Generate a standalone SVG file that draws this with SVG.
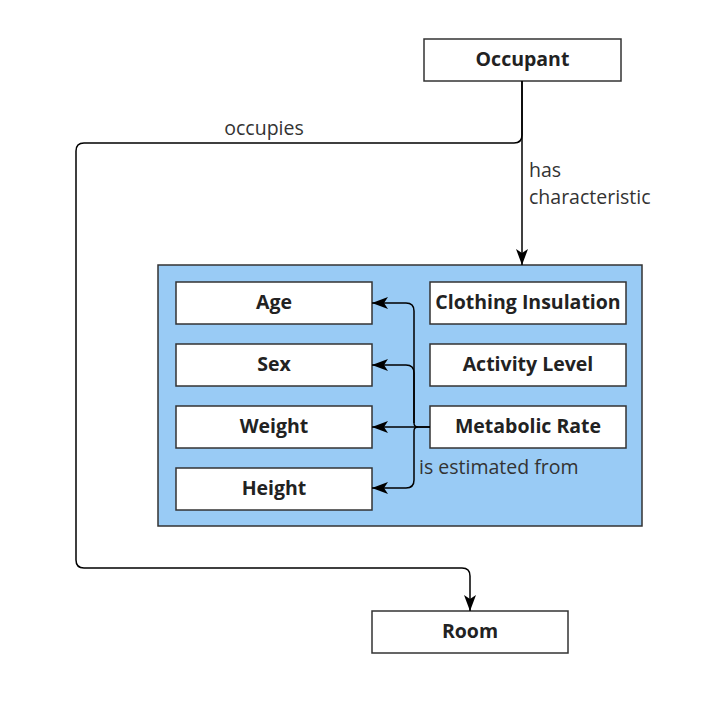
<svg xmlns="http://www.w3.org/2000/svg" width="708" height="703" viewBox="0 0 708 703">
<style>
.box{fill:#fff;stroke:#333;stroke-width:1.5}
.t{font-family:"Open Sans",sans-serif;font-weight:bold;font-size:19.5px;fill:#222;text-anchor:middle;dominant-baseline:central}
.lbl{font-family:"Open Sans",sans-serif;font-size:19.5px;fill:#333}
.c{fill:none;stroke:#000;stroke-width:1.5}
</style>
<defs>
<marker id="ah" viewBox="0 0 16 12" refX="16" refY="6" markerWidth="16" markerHeight="12" markerUnits="userSpaceOnUse" orient="auto">
<path d="M0,0 L16,6 L0,12 L4,6 Z" fill="#000"/>
</marker>
</defs>
<rect width="708" height="703" fill="#fff"/>
<g id="characteristics">
<rect x="158" y="265" width="484" height="261" fill="#99cbf5" stroke="#333" stroke-width="1.5"/>
</g>
<g id="occupant"><rect class="box" x="424" y="39" width="197" height="42"/><text class="t" x="522.5" y="58">Occupant</text></g>
<g id="room"><rect class="box" x="372" y="611" width="196" height="42"/><text class="t" x="470" y="630">Room</text></g>
<g id="age"><rect class="box" x="176" y="282" width="196" height="42"/><text class="t" x="274" y="301">Age</text></g>
<g id="sex"><rect class="box" x="176" y="344" width="196" height="42"/><text class="t" x="274" y="363">Sex</text></g>
<g id="weight"><rect class="box" x="176" y="406" width="196" height="42"/><text class="t" x="274" y="425">Weight</text></g>
<g id="height"><rect class="box" x="176" y="468" width="196" height="42"/><text class="t" x="274" y="487">Height</text></g>
<g id="clothing"><rect class="box" x="430" y="282" width="196" height="42"/><text class="t" x="528" y="301">Clothing Insulation</text></g>
<g id="activity"><rect class="box" x="430" y="344" width="196" height="42"/><text class="t" x="528" y="363">Activity Level</text></g>
<g id="metabolic"><rect class="box" x="430" y="406" width="196" height="42"/><text class="t" x="528" y="425">Metabolic Rate</text></g>
<g id="connectors">
<path class="c" d="M522,81 L522,135 Q522,143 514,143 L84,143 Q76,143 76,151 L76,560 Q76,568 84,568 L462,568 Q470,568 470,576 L470,611" marker-end="url(#ah)"/>
<path class="c" d="M522,81 L522,265" marker-end="url(#ah)"/>
<path class="c" d="M430,427 L372,427" marker-end="url(#ah)"/>
<path class="c" d="M430,427 L418,427 Q414,427 414,423 L414,311 Q414,303 406,303 L372,303" marker-end="url(#ah)"/>
<path class="c" d="M414,423 L414,373 Q414,365 406,365 L372,365" marker-end="url(#ah)"/>
<path class="c" d="M418,427 Q414,427 414,431 L414,480 Q414,488 406,488 L372,488" marker-end="url(#ah)"/>
<text class="lbl" x="264" y="135" text-anchor="middle">occupies</text>
<text class="lbl" x="529" y="177">has</text>
<text class="lbl" x="529" y="204">characteristic</text>
<text class="lbl" x="419" y="474">is estimated from</text>
</g>
</svg>
